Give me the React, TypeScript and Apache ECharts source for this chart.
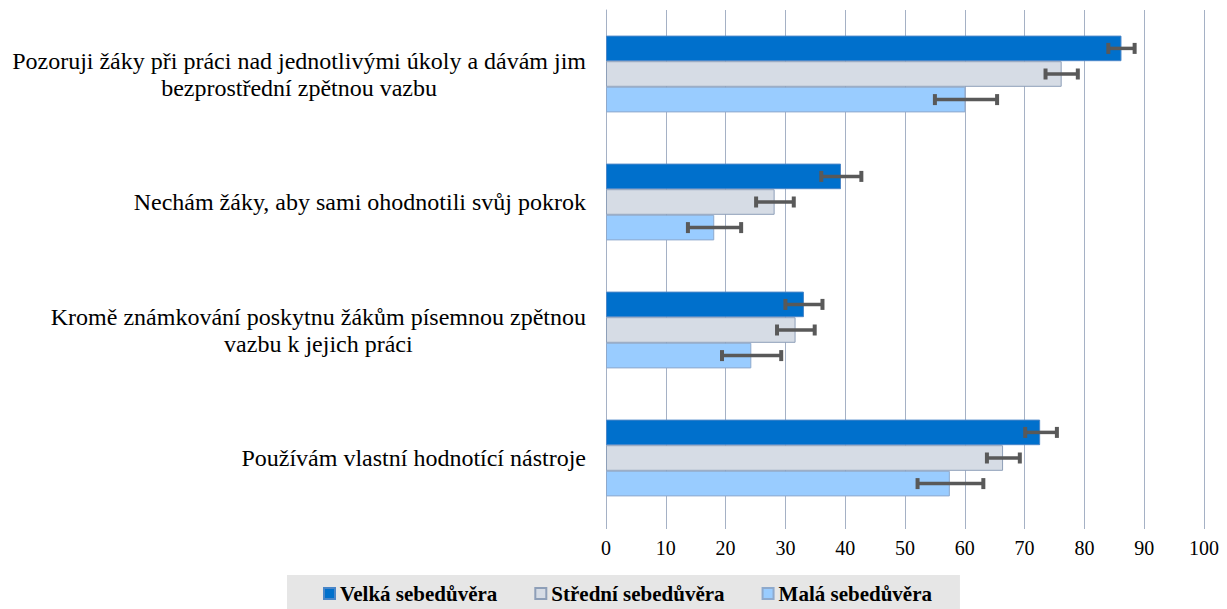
import React, { useEffect, useRef } from "react";
import * as echarts from "echarts";

const categories = [
  "Pozoruji žáky při práci nad jednotlivými úkoly a dávám jim\nbezprostřední zpětnou vazbu",
  "Nechám žáky, aby sami ohodnotili svůj pokrok",
  "Kromě známkování poskytnu žákům písemnou zpětnou\nvazbu k jejich práci",
  "Používám vlastní hodnotící nástroje",
];

const seriesNames = ["Velká sebedůvěra", "Střední sebedůvěra", "Malá sebedůvěra"];

const velka = [86.2, 39.3, 33.1, 72.6];
const velkaLow = [84.0, 36.0, 30.0, 70.1];
const velkaHigh = [88.4, 42.7, 36.2, 75.4];

const stredni = [76.2, 28.2, 31.7, 66.4];
const stredniLow = [73.5, 25.1, 28.6, 63.7];
const stredniHigh = [78.9, 31.4, 34.9, 69.2];

const mala = [60.1, 18.1, 24.3, 57.5];
const malaLow = [55.0, 13.7, 19.4, 52.1];
const malaHigh = [65.4, 22.6, 29.3, 63.1];

const xTicks = [0, 10, 20, 30, 40, 50, 60, 70, 80, 90, 100];

const FONT = "Liberation Serif";

export default function App() {
  const ref = useRef<HTMLDivElement>(null);

  useEffect(() => {
    if (!ref.current) return;
    const chart = echarts.init(ref.current, null, { renderer: "svg" });

    const values = [velka, stredni, mala];
    const lows = [velkaLow, stredniLow, malaLow];
    const highs = [velkaHigh, stredniHigh, malaHigh];
    const fills = ["#0070CC", "#D6DCE5", "#99CCFF"];
    const borders = ["#4A86C8", "#8E9FB8", "#8EA9CC"];

    const barSeries = values.map((v, i) => ({
      name: seriesNames[i],
      type: "bar",
      data: v,
      barGap: "0%",
      barCategoryGap: "40%",
      itemStyle: { color: fills[i], borderColor: borders[i], borderWidth: 1 },
      z: 2,
    }));

    const errSeries = lows.map((lo, k) => ({
      name: "err" + k,
      type: "custom",
      z: 5,
      data: lo.map((l, j) => [j, l, highs[k][j]]),
      encode: { x: [1, 2], y: 0 },
      renderItem: (params: any, api: any) => {
        const cat = api.value(0);
        const p1 = api.coord([api.value(1), cat]);
        const p2 = api.coord([api.value(2), cat]);
        const band = api.size([0, 1])[1];
        const bw = (band * 0.6) / 3;
        const y = p1[1] + (k - 1) * bw;
        const cap = 5.5;
        const st = { stroke: "#595959", lineWidth: 4 };
        return {
          type: "group",
          children: [
            { type: "line", shape: { x1: p1[0], y1: y, x2: p2[0], y2: y }, style: { ...st, lineWidth: 3.5 } },
            { type: "line", shape: { x1: p1[0], y1: y - cap, x2: p1[0], y2: y + cap }, style: st },
            { type: "line", shape: { x1: p2[0], y1: y - cap, x2: p2[0], y2: y + cap }, style: st },
          ],
        };
      },
    }));

    chart.setOption({
      animation: false,
      textStyle: { fontFamily: FONT },
      grid: { left: 606, right: 23, top: 10, bottom: 87, containLabel: false },
      legend: {
        data: seriesNames,
        left: 287,
        top: 575,
        padding: [8, 28, 10, 36],
        backgroundColor: "#E6E6E6",
        itemWidth: 11,
        itemHeight: 11,
        itemGap: 37,
        icon: "rect",
        selectedMode: false,
        textStyle: { fontFamily: FONT, fontSize: 21, fontWeight: "bold", color: "#000" },
      },
      xAxis: {
        type: "value",
        min: xTicks[0],
        max: xTicks[xTicks.length - 1],
        interval: 10,
        axisLine: { show: false },
        axisTick: { show: true, length: 7, lineStyle: { color: "#A5B1C5", width: 1 } },
        splitLine: { show: true, lineStyle: { color: "#A5B1C5", width: 1 } },
        axisLabel: { fontFamily: FONT, fontSize: 20, color: "#000", margin: 16 },
      },
      yAxis: {
        type: "category",
        inverse: true,
        data: categories,
        axisLine: { show: true, lineStyle: { color: "#A5B1C5", width: 1 } },
        axisTick: { show: false },
        axisLabel: {
          margin: 20,
          align: "right",
          fontFamily: FONT,
          fontSize: 24,
          color: "#000",
          lineHeight: 27,
          formatter: (s: string) => s.split("\n").map((l) => "{c|" + l + "}").join("\n"),
          rich: {
            c: { fontFamily: FONT, fontSize: 24, color: "#000", lineHeight: 27, align: "center" },
          },
        },
      },
      series: [...barSeries, ...errSeries],
    });

    return () => chart.dispose();
  }, []);

  return (
    <div
      ref={ref}
      style={{ position: "fixed", left: 0, top: 0, width: 1227, height: 609, background: "#fff" }}
    />
  );
}
